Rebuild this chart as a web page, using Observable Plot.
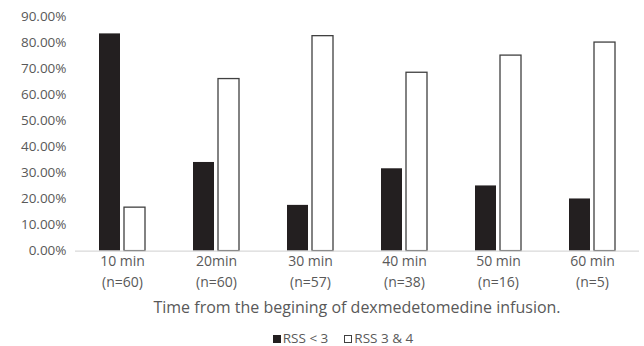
<!DOCTYPE html>
<html>
<head>
<meta charset="utf-8">
<script src="https://cdn.jsdelivr.net/npm/d3@7"></script>
<script src="https://cdn.jsdelivr.net/npm/@observablehq/plot@0.6"></script>
<style>
  html, body { margin: 0; padding: 0; background: #fff; }
  body { width: 644px; height: 346px; overflow: hidden; font-family: "Open Sans", sans-serif; color: #595959; }
  #chart svg { display: block; }
  #xtitle { height: 20px; line-height: 20px; font-size: 16px; text-align: center; margin-top: 1px; padding-left: 70px; white-space: nowrap; }
  #legend { height: 18px; line-height: 18px; font-size: 13.5px; text-align: center; margin-top: 12px; padding-left: 42px; white-space: nowrap; }
  .sw { display: inline-block; width: 8px; height: 8px; vertical-align: 0px; margin-right: 2px; box-sizing: border-box; }
  .item { margin: 0 8px; }
</style>
</head>
<body>
<div id="chart"></div>
<div id="xtitle"></div>
<div id="legend"></div>
<script>
const categories = ["10 min", "20min", "30 min", "40 min", "50 min", "60 min"];
const sampleSizes = ["(n=60)", "(n=60)", "(n=57)", "(n=38)", "(n=16)", "(n=5)"];
const series = ["RSS < 3", "RSS 3 & 4"];
const rssBelow3 = [0.8333, 0.34, 0.1754, 0.3158, 0.25, 0.20];
const rss3and4 = [0.1667, 0.66, 0.8246, 0.6842, 0.75, 0.80];
const yTicks = [0, 0.1, 0.2, 0.3, 0.4, 0.5, 0.6, 0.7, 0.8, 0.9];
const xTitle = "Time from the begining of dexmedetomedine infusion.";

const seriesColors = ["#231f20", "#ffffff"];
const nByCat = new Map(categories.map((c, i) => [c, sampleSizes[i]]));
const dataA = categories.map((c, i) => ({cat: c, series: series[0], value: rssBelow3[i]}));
const dataB = categories.map((c, i) => ({cat: c, series: series[1], value: rss3and4[i]}));
const pct = d => (d * 100).toFixed(2) + "%";
const textColor = "#595959";

const chart = Plot.plot({
  width: 644,
  height: 296,
  marginLeft: 74,
  marginRight: 4,
  marginTop: 16,
  marginBottom: 45.4,
  style: {fontFamily: "'Open Sans', sans-serif", background: "white"},
  fx: {domain: categories, padding: 0, label: null, axis: null},
  x: {domain: series, paddingInner: 0.154, paddingOuter: 0.892, axis: null},
  y: {domain: [0, 0.9], label: null, axis: null},
  marks: [
    Plot.axisY({ticks: yTicks, tickFormat: pct, tickSize: 0, tickPadding: 9, fontSize: 13.5, fill: textColor, label: null}),
    Plot.barY(dataA, {fx: "cat", x: "series", y: "value", fill: seriesColors[0]}),
    Plot.barY(dataB, {fx: "cat", x: "series", y: "value", fill: seriesColors[1], stroke: "#404040", strokeWidth: 1.3}),
    Plot.ruleY([0], {stroke: "#d9d9d9", strokeWidth: 1.3}),
    Plot.axisFx({anchor: "bottom", tickSize: 0, tickPadding: 5, fontSize: 14, fill: textColor, label: null}),
    Plot.axisFx({anchor: "bottom", tickSize: 0, tickPadding: 26, fontSize: 14, fill: textColor, label: null, tickFormat: d => nByCat.get(d)})
  ]
});
document.getElementById("chart").appendChild(chart);
document.getElementById("xtitle").textContent = xTitle;

const legend = document.getElementById("legend");
series.forEach((s, i) => {
  const item = document.createElement("span");
  item.className = "item";
  const sw = document.createElement("span");
  sw.className = "sw";
  sw.style.background = seriesColors[i];
  sw.style.border = i === 0 ? "none" : "1px solid #404040";
  item.appendChild(sw);
  item.appendChild(document.createTextNode(s));
  legend.appendChild(item);
});
</script>
</body>
</html>
